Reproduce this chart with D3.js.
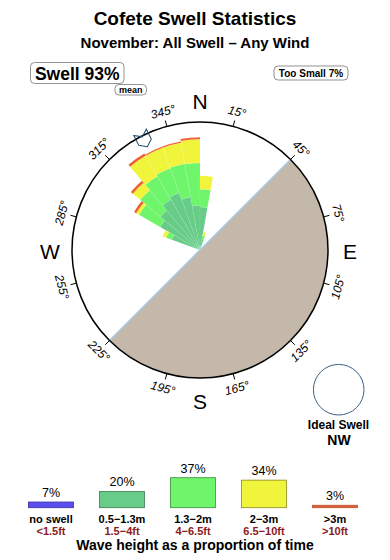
<!DOCTYPE html>
<html>
<head>
<meta charset="utf-8">
<script src="https://cdn.jsdelivr.net/npm/d3@7"></script>
<style>
  body { margin: 0; background: #fff; }
  text { font-family: "Liberation Sans", Arial, Helvetica, sans-serif; }
</style>
</head>
<body>
<svg id="chart" width="390" height="560"></svg>
<script>
// swell rose: centre of each 10 degree bin, and % of time per wave-height band
const dirs = [295, 305, 315, 325, 335, 345, 355, 5, 15];
const band1 = [4.7, 7.2, 8.1, 9.1, 9.5, 8.4, 7.0, 6.7, 1.7]; // 0.5-1.3m
const band2 = [0.9, 3.8, 4.1, 4.2, 4.1, 5.3, 6.6, 2.8, 0.6]; // 1.3-2m
const band3 = [0.6, 0.5, 1.5, 3.7, 3.4, 3.3, 3.7, 2.1, 0.5]; // 2-3m
const band4 = [0, 0.4, 0.4, 0.4, 0.2, 0.2, 0.3, 0, 0];       // >3m
const bandKeys = ["b1", "b2", "b3", "b4"];
const bandColors = ["#66cc88", "#6ff56b", "#f0f53c", "#f0602e"];

// legend
const legendPct = [7, 20, 37, 34, 3];
const legendM = ["no swell", "0.5\u22121.3m", "1.3\u22122m", "2\u22123m", ">3m"];
const legendFt = ["<1.5ft", "1.5\u22124ft", "4\u22126.5ft", "6.5\u221210ft", ">10ft"];
const legendColors = ["#5b4ff0", "#66cc88", "#6ff56b", "#f0f53c", "#d9603a"];
const legendStroke = ["#3a30a0", "#3f7a55", "#3f8a3f", "#8a8a20", "#c05030"];

const degLabels = d3.range(15, 360, 30);
const cardinals = ["N", "E", "S", "W"];
const cardinalDeg = [0, 90, 180, 270];

const landFrom = 45, landTo = 225;
const meanDir = 333;

const svg = d3.select("#chart");
const cx = 200, cy = 250, R = 128;
const rad = d => d * Math.PI / 180;
const r = d3.scaleLinear().domain([0, 20]).range([0, R]);

// titles
svg.append("text").attr("x", 195).attr("y", 25).attr("text-anchor", "middle")
  .style("font-size", "19px").style("font-weight", "bold").text("Cofete Swell Statistics");
svg.append("text").attr("x", 195).attr("y", 48).attr("text-anchor", "middle")
  .style("font-size", "15px").style("font-weight", "bold").text("November: All Swell \u2013 Any Wind");

// label boxes
function boxLabel(x, y, w, h, txt, size, ty) {
  svg.append("rect").attr("x", x).attr("y", y).attr("width", w).attr("height", h)
    .attr("rx", 4).attr("fill", "#fff").attr("stroke", "#777").attr("stroke-width", 0.8);
  svg.append("text").attr("x", x + w / 2).attr("y", ty).attr("text-anchor", "middle")
    .style("font-size", size).style("font-weight", "bold").text(txt);
}
boxLabel(30.5, 62.5, 93.5, 21, "Swell 93%", "17.5px", 80);
boxLabel(115, 84.5, 31.5, 10.5, "mean", "9px", 93);
boxLabel(274, 66, 74, 14, "Too Small 7%", "10px", 76.8);

const g = svg.append("g").attr("transform", `translate(${cx},${cy})`);

// land
g.append("path")
  .attr("d", d3.arc()({innerRadius: 0, outerRadius: R, startAngle: rad(landFrom), endAngle: rad(landTo)}))
  .attr("fill", "#c4b8ab");
g.append("line")
  .attr("x1", R * Math.sin(rad(landFrom))).attr("y1", -R * Math.cos(rad(landFrom)))
  .attr("x2", R * Math.sin(rad(landTo))).attr("y2", -R * Math.cos(rad(landTo)))
  .attr("stroke", "#a9c9e6").attr("stroke-width", 1.5);

// rose bars
const rows = dirs.map((d, i) => ({dir: d, b1: band1[i], b2: band2[i], b3: band3[i], b4: band4[i]}));
const stacked = d3.stack().keys(bandKeys)(rows);
const arc = d3.arc();
g.selectAll("g.band")
  .data(stacked)
  .enter().append("g")
  .attr("class", "band")
  .attr("fill", (d, i) => bandColors[i])
  .selectAll("path")
  .data(d => d.filter(p => p[1] > p[0]))
  .enter().append("path")
  .attr("d", p => arc({
    innerRadius: r(p[0]), outerRadius: r(p[1]),
    startAngle: rad(p.data.dir - 5), endAngle: rad(p.data.dir + 5)
  }))
  .attr("stroke", "#ffffff").attr("stroke-opacity", 0.12).attr("stroke-width", 0.5);

// outer circle and ticks
g.append("circle").attr("r", R).attr("fill", "none").attr("stroke", "#000").attr("stroke-width", 1.5);
g.selectAll("line.tick")
  .data(degLabels)
  .enter().append("line")
  .attr("class", "tick")
  .attr("x1", d => R * Math.sin(rad(d))).attr("y1", d => -R * Math.cos(rad(d)))
  .attr("x2", d => (R + 6) * Math.sin(rad(d))).attr("y2", d => -(R + 6) * Math.cos(rad(d)))
  .attr("stroke", "#000").attr("stroke-width", 1);

g.selectAll("text.deg")
  .data(degLabels)
  .enter().append("text")
  .attr("class", "deg")
  .attr("text-anchor", "middle")
  .attr("dominant-baseline", "central")
  .attr("transform", d => {
    const x = 143 * Math.sin(rad(d)), y = -143 * Math.cos(rad(d));
    const rot = d > 90 && d < 270 ? d - 180 : (d >= 270 ? d - 360 : d);
    return `translate(${x},${y}) rotate(${rot})`;
  })
  .style("font-size", "12px").style("font-style", "italic")
  .text(d => d + "\u00b0");

g.selectAll("text.card")
  .data(cardinals)
  .enter().append("text")
  .attr("class", "card")
  .attr("text-anchor", "middle")
  .attr("dominant-baseline", "central")
  .attr("x", (d, i) => 150 * Math.sin(rad(cardinalDeg[i])))
  .attr("y", (d, i) => -150 * Math.cos(rad(cardinalDeg[i])) + 1)
  .style("font-size", "21px")
  .text(d => d);

// mean direction arrow
g.append("path")
  .attr("transform", `rotate(${meanDir})`)
  .attr("d", "M-7,-132 L0,-127 L7,-132 L7,-121 L0,-116 L-7,-121 Z")
  .attr("fill", "none").attr("stroke", "#1f4a6e").attr("stroke-width", 1);

// ideal swell
svg.append("circle").attr("cx", 338.7).attr("cy", 389.7).attr("r", 25.3)
  .attr("fill", "#fff").attr("stroke", "#3d5f85").attr("stroke-width", 1);
svg.append("text").attr("x", 338.5).attr("y", 428.5).attr("text-anchor", "middle")
  .style("font-size", "12px").style("font-weight", "bold").text("Ideal Swell");
svg.append("text").attr("x", 339).attr("y", 444.5).attr("text-anchor", "middle")
  .style("font-size", "14px").style("font-weight", "bold").text("NW");

// legend
const lx = d3.scalePoint().domain(legendM).range([51, 335]);
const lh = d3.scaleLinear().domain([0, 37]).range([0, 30]);
const base = 507.7, bw = 45;
const items = svg.selectAll("g.leg")
  .data(legendM)
  .enter().append("g")
  .attr("class", "leg")
  .attr("transform", d => `translate(${lx(d)},0)`);
items.append("rect")
  .attr("x", -bw / 2).attr("width", bw)
  .attr("y", (d, i) => base - lh(legendPct[i]))
  .attr("height", (d, i) => lh(legendPct[i]))
  .attr("fill", (d, i) => legendColors[i])
  .attr("stroke", (d, i) => legendStroke[i]).attr("stroke-width", 0.8);
items.append("text")
  .attr("text-anchor", "middle")
  .attr("y", (d, i) => base - lh(legendPct[i]) - 5)
  .style("font-size", "12.5px")
  .text((d, i) => legendPct[i] + "%");
items.append("text")
  .attr("text-anchor", "middle").attr("y", 522.5)
  .style("font-size", "11px").style("font-weight", "bold")
  .text(d => d);
items.append("text")
  .attr("text-anchor", "middle").attr("y", 534.5)
  .style("font-size", "11px").style("font-weight", "bold").attr("fill", "#8b1a1a")
  .text((d, i) => legendFt[i]);

svg.append("text").attr("x", 195).attr("y", 550).attr("text-anchor", "middle")
  .style("font-size", "14px").style("font-weight", "bold").text("Wave height as a proportion of time");
</script>
</body>
</html>
